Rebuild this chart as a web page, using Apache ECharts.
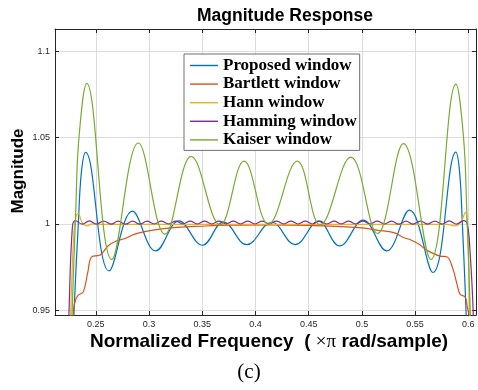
<!DOCTYPE html>
<html><head><meta charset="utf-8">
<script src="https://cdn.jsdelivr.net/npm/echarts@6/dist/echarts.min.js"></script>
<style>html,body{margin:0;padding:0;background:#fff}#c{width:478px;height:390px}</style>
</head><body><div id="c"></div>
<script>
const xTicks = [0.25, 0.3, 0.35, 0.4, 0.45, 0.5, 0.55, 0.6];
const yTicks = [0.95, 1, 1.05, 1.1];
const seriesNames = ['Proposed window', 'Bartlett window', 'Hann window', 'Hamming window', 'Kaiser window'];

const proposedX = [0.2265,0.2300,0.2336,0.2365,0.2405,0.2625,0.2844,0.3063,0.3282,0.3502,0.3699,0.3918,0.4153,0.4373,0.4592,0.4790,0.5011,0.5232,0.5447,0.5667,0.5883,0.5918,0.5944,0.5975,0.6010];
const proposedY = [0.900,0.955,1.000,1.030,1.0415,0.9728,1.0074,0.9844,1.0018,0.9877,1.0012,0.9880,1.0010,0.9880,1.0016,0.9873,1.0022,0.9844,1.0080,0.9719,1.0416,1.030,1.000,0.955,0.900];

const bartlettX = [0.2270,0.2290,0.2310,0.2336,0.2383,0.2425,0.2462,0.2540,0.2620,0.2697,0.2775,0.2860,0.2947,0.3104,0.3260,0.3480,0.3750,0.4150,0.4500,0.4800,0.5000,0.5140,0.5300,0.5390,0.5450,0.5530,0.5611,0.5735,0.5798,0.5850,0.5892,0.5923,0.5970,0.5990,0.6010,0.6030];
const bartlettY = [0.900,0.950,0.956,0.9588,0.9607,0.972,0.981,0.982,0.9875,0.9902,0.9916,0.9940,0.9954,0.9970,0.9980,0.9987,0.9993,0.9995,0.9992,0.9985,0.9978,0.9964,0.9950,0.9922,0.9910,0.9885,0.9848,0.9814,0.9810,0.9750,0.9655,0.9593,0.9578,0.9520,0.9450,0.900];

const hannX = [0.2240,0.2265,0.2290,0.2310,0.2336,0.2370,0.2415,0.2470,0.2550,0.3000,0.3500,0.4000,0.4500,0.5000,0.5500,0.5800,0.5876,0.5930,0.5970,0.5995,0.6012,0.6035];
const hannY = [0.900,0.950,0.990,1.003,1.0062,1.001,0.9989,1.0001,0.9998,0.9998,0.9998,0.9998,0.9998,0.9998,0.9998,0.9998,0.9989,1.001,1.0067,0.995,0.950,0.900];

const hammingX = [0.2230,0.2249,0.2280,0.2308,0.2374,0.2440,0.2508,0.2575,0.2643,0.2711,0.2778,0.2846,0.2914,0.2981,0.3049,0.3116,0.3184,0.3251,0.3319,0.3387,0.3454,0.3522,0.3590,0.3657,0.3725,0.3792,0.3860,0.3927,0.3995,0.4063,0.4130,0.4198,0.4266,0.4333,0.4401,0.4468,0.4536,0.4603,0.4671,0.4739,0.4806,0.4874,0.4942,0.5009,0.5077,0.5144,0.5212,0.5279,0.5347,0.5415,0.5482,0.5550,0.5618,0.5685,0.5753,0.5820,0.5888,0.5955,0.5990,0.6015,0.6045,0.6062];
const hammingY = [0.900,0.950,0.998,1.0020,0.9999,1.0018,0.9999,1.0017,0.9999,1.0016,0.9999,1.0016,0.9999,1.0016,1.0000,1.0016,1.0000,1.0016,1.0000,1.0016,1.0000,1.0016,1.0000,1.0016,1.0000,1.0016,1.0000,1.0016,1.0000,1.0016,1.0000,1.0016,1.0000,1.0016,1.0000,1.0016,1.0000,1.0016,1.0000,1.0016,1.0000,1.0016,1.0000,1.0016,1.0000,1.0016,1.0000,1.0016,0.9999,1.0016,0.9999,1.0017,0.9999,1.0017,0.9999,1.0018,0.9999,1.0020,1.0000,0.985,0.950,0.900];

const kaiserX = [0.2250,0.2312,0.2342,0.2415,0.2650,0.2900,0.3150,0.3397,0.3668,0.3893,0.4122,0.4393,0.4608,0.4896,0.5146,0.5390,0.5648,0.5883,0.5955,0.5985,0.6045];
const kaiserY = [0.900,1.008,1.050,1.0814,0.9794,1.0469,0.9941,1.0391,0.9995,1.0364,0.9998,1.0364,0.9995,1.0387,0.9945,1.0465,0.9794,1.0810,1.050,1.008,0.900];

const colors = ['#0072BD', '#D95319', '#EDB120', '#7E2F8E', '#77AC30'];
const xs = [proposedX, bartlettX, hannX, hammingX, kaiserX];
const ys = [proposedY, bartlettY, hannY, hammingY, kaiserY];

const axisColor = '#262626';
const gridColor = '#dcdcdc';
const labelStyle = { fontSize: 9, color: axisColor, fontFamily: 'Liberation Sans' };

const chart = echarts.init(document.getElementById('c'), null, { renderer: 'canvas' });
chart.setOption({
  animation: false,
  backgroundColor: '#fff',
  grid: { left: 55, top: 29, width: 421, height: 286, containLabel: false },
  xAxis: [
    { type: 'value', position: 'bottom', min: 0.2117, max: 0.6072,
      axisLine: { show: true, onZero: false, lineStyle: { color: axisColor, width: 1 } },
      axisTick: { show: true, inside: true, length: 4, customValues: xTicks, lineStyle: { color: axisColor } },
      axisLabel: Object.assign({ customValues: xTicks, margin: 5, formatter: v => String(v) }, labelStyle),
      splitLine: { show: true, lineStyle: { color: gridColor, width: 1 } } },
    { type: 'value', position: 'top', min: 0.2117, max: 0.6072,
      axisLine: { show: true, onZero: false, lineStyle: { color: axisColor, width: 1 } },
      axisTick: { show: true, inside: true, length: 4, customValues: xTicks, lineStyle: { color: axisColor } },
      axisLabel: { show: false }, splitLine: { show: false } }
  ],
  yAxis: [
    { type: 'value', position: 'left', min: 0.9473, max: 1.1129,
      axisLine: { show: true, onZero: false, lineStyle: { color: axisColor, width: 1 } },
      axisTick: { show: true, inside: true, length: 4, customValues: yTicks, lineStyle: { color: axisColor } },
      axisLabel: Object.assign({ customValues: yTicks, margin: 5, formatter: v => String(v) }, labelStyle),
      splitLine: { show: true, lineStyle: { color: gridColor, width: 1 } } },
    { type: 'value', position: 'right', min: 0.9473, max: 1.1129,
      axisLine: { show: true, onZero: false, lineStyle: { color: axisColor, width: 1 } },
      axisTick: { show: true, inside: true, length: 4, customValues: yTicks, lineStyle: { color: axisColor } },
      axisLabel: { show: false }, splitLine: { show: false } }
  ],
  legend: {
    orient: 'vertical', left: 184, top: 54,
    padding: [3, 3, 2, 6], itemGap: 1.6, itemWidth: 28, itemHeight: 1.4, icon: 'rect',
    backgroundColor: '#fff', borderColor: '#707070', borderWidth: 1,
    textStyle: { fontFamily: 'Liberation Serif', fontWeight: 'bold', fontSize: 17, color: '#000', lineHeight: 17 },
    data: seriesNames
  },
  series: seriesNames.map((name, i) => ({
    name, type: 'line', xAxisIndex: 0, yAxisIndex: 0,
    data: xs[i].map((x, j) => [x, ys[i][j]]),
    smooth: 0.4, symbol: 'none', showSymbol: false, clip: true,
    lineStyle: { color: colors[i], width: 1.2 }, itemStyle: { color: colors[i] },
    emphasis: { disabled: true }
  })),
  graphic: [
    { type: 'text', x: 285, y: 16, style: { text: 'Magnitude Response', font: 'bold 17.5px "Liberation Sans"', fill: '#000', textAlign: 'center', textVerticalAlign: 'middle' } },
    { type: 'text', x: 18, y: 171, rotation: Math.PI / 2, style: { text: 'Magnitude', font: 'bold 17px "Liberation Sans"', fill: '#000', textAlign: 'center', textVerticalAlign: 'middle' } },
    { type: 'text', x: 269, y: 342, style: {
        text: '{b|Normalized Frequency  ( }{s|×π}{b| rad/sample)}',
        textAlign: 'center', textVerticalAlign: 'middle', fill: '#000',
        rich: { b: { font: 'bold 19px "Liberation Sans"', fill: '#000' }, s: { font: '19px "Liberation Serif"', fill: '#000' } } } },
    { type: 'text', x: 249, y: 372, style: { text: '(c)', font: '21px "Liberation Serif"', fill: '#000', textAlign: 'center', textVerticalAlign: 'middle' } }
  ]
});
</script></body></html>
